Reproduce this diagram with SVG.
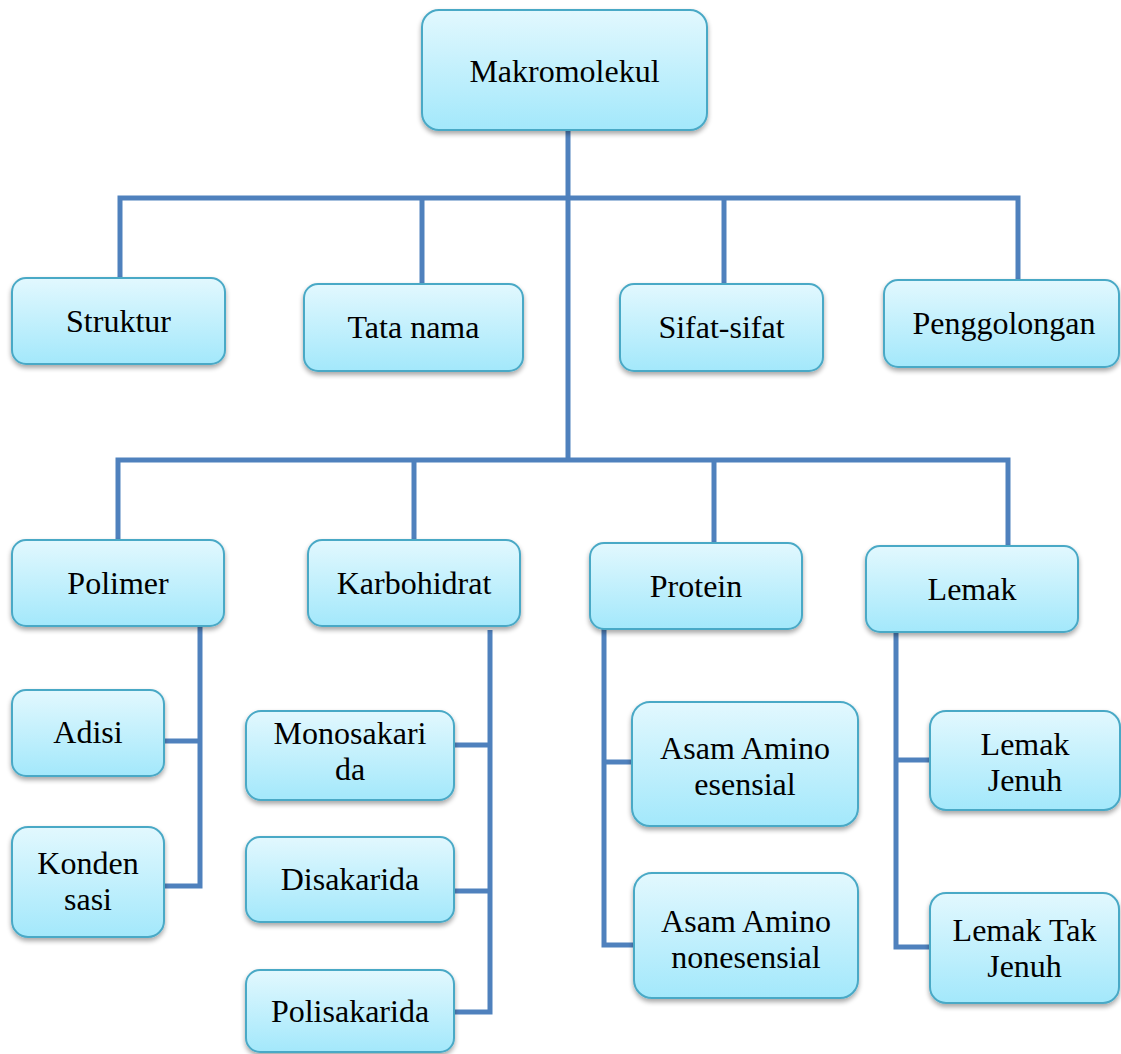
<svg xmlns="http://www.w3.org/2000/svg" width="1121" height="1054" viewBox="0 0 1121 1054">
<style>
.box{fill:url(#g);stroke:#4aa9c6;stroke-width:2;filter:url(#sh)}
.t{font-family:"Liberation Serif","Times New Roman",serif;font-size:32px;fill:#000;text-anchor:middle}
.c{fill:none;stroke:#4f81bd;stroke-width:5;stroke-linejoin:miter;stroke-linecap:butt}
</style>
<defs>
<linearGradient id="g" x1="0" y1="0" x2="0" y2="1">
<stop offset="0" stop-color="#e2f8fe"/>
<stop offset="1" stop-color="#a3e8fb"/>
</linearGradient>
<filter id="sh" x="-10%" y="-10%" width="120%" height="130%">
<feGaussianBlur in="SourceAlpha" stdDeviation="2.5"/>
<feOffset dx="0" dy="3" result="b"/>
<feComponentTransfer><feFuncA type="linear" slope="0.35"/></feComponentTransfer>
<feMerge><feMergeNode/><feMergeNode in="SourceGraphic"/></feMerge>
</filter>
</defs>
<rect width="1121" height="1054" fill="#fff"/>
<g id="connectors" class="c">
<path class="c" d="M568,130 V460"/>
<path class="c" d="M120,278 V198 H1018 V280"/>
<path class="c" d="M422,198 V284"/>
<path class="c" d="M724,198 V284"/>
<path class="c" d="M118,540 V460 H1008 V546"/>
<path class="c" d="M414,460 V540"/>
<path class="c" d="M714,460 V543"/>
<path class="c" d="M200,626 V886 H164"/>
<path class="c" d="M164,741 H200"/>
<path class="c" d="M490,630 V1012 H454"/>
<path class="c" d="M454,745 H490"/>
<path class="c" d="M454,891 H490"/>
<path class="c" d="M604,629 V945 H634"/>
<path class="c" d="M604,762 H632"/>
<path class="c" d="M896,632 V947 H930"/>
<path class="c" d="M896,760 H930"/>
</g>
<g id="makromolekul"><rect class="box" x="422" y="10" width="285" height="120" rx="17"/><text class="t" x="564.5" y="82">Makromolekul</text></g>
<g id="struktur"><rect class="box" x="12" y="278" width="213" height="86" rx="14"/><text class="t" x="118.5" y="332">Struktur</text></g>
<g id="tatanama"><rect class="box" x="304" y="284" width="219" height="87" rx="14"/><text class="t" x="413.5" y="338">Tata nama</text></g>
<g id="sifat"><rect class="box" x="620" y="284" width="203" height="87" rx="14"/><text class="t" x="721.5" y="338">Sifat-sifat</text></g>
<g id="penggolongan"><rect class="box" x="884" y="280" width="235" height="87" rx="14"/><text class="t" x="1004" y="334">Penggolongan</text></g>
<g id="polimer"><rect class="box" x="12" y="540" width="212" height="86" rx="14"/><text class="t" x="118" y="594">Polimer</text></g>
<g id="karbohidrat"><rect class="box" x="308" y="540" width="212" height="86" rx="14"/><text class="t" x="414" y="594">Karbohidrat</text></g>
<g id="protein"><rect class="box" x="590" y="543" width="212" height="86" rx="14"/><text class="t" x="696" y="597">Protein</text></g>
<g id="lemak"><rect class="box" x="866" y="546" width="212" height="86" rx="14"/><text class="t" x="972" y="600">Lemak</text></g>
<g id="adisi"><rect class="box" x="12" y="690" width="152" height="86" rx="14"/><text class="t" x="88" y="743">Adisi</text></g>
<g id="kondensasi"><rect class="box" x="12" y="827" width="152" height="110" rx="16"/><text class="t" x="88" y="874">Konden</text><text class="t" x="88" y="910">sasi</text></g>
<g id="monosakarida"><rect class="box" x="246" y="711" width="208" height="89" rx="15"/><text class="t" x="350" y="744">Monosakari</text><text class="t" x="350" y="780">da</text></g>
<g id="disakarida"><rect class="box" x="246" y="837" width="208" height="85" rx="14"/><text class="t" x="350" y="890">Disakarida</text></g>
<g id="polisakarida"><rect class="box" x="246" y="970" width="208" height="82" rx="14"/><text class="t" x="350" y="1022">Polisakarida</text></g>
<g id="asam-esensial"><rect class="box" x="632" y="702" width="226" height="124" rx="18"/><text class="t" x="745" y="759">Asam Amino</text><text class="t" x="745" y="795">esensial</text></g>
<g id="asam-nonesensial"><rect class="box" x="634" y="873" width="224" height="125" rx="18"/><text class="t" x="746" y="932">Asam Amino</text><text class="t" x="746" y="968">nonesensial</text></g>
<g id="lemak-jenuh"><rect class="box" x="930" y="711" width="190" height="99" rx="16"/><text class="t" x="1025" y="755">Lemak</text><text class="t" x="1025" y="791">Jenuh</text></g>
<g id="lemak-tak-jenuh"><rect class="box" x="930" y="893" width="189" height="110" rx="16"/><text class="t" x="1024.5" y="941">Lemak Tak</text><text class="t" x="1024.5" y="977">Jenuh</text></g>
</svg>
